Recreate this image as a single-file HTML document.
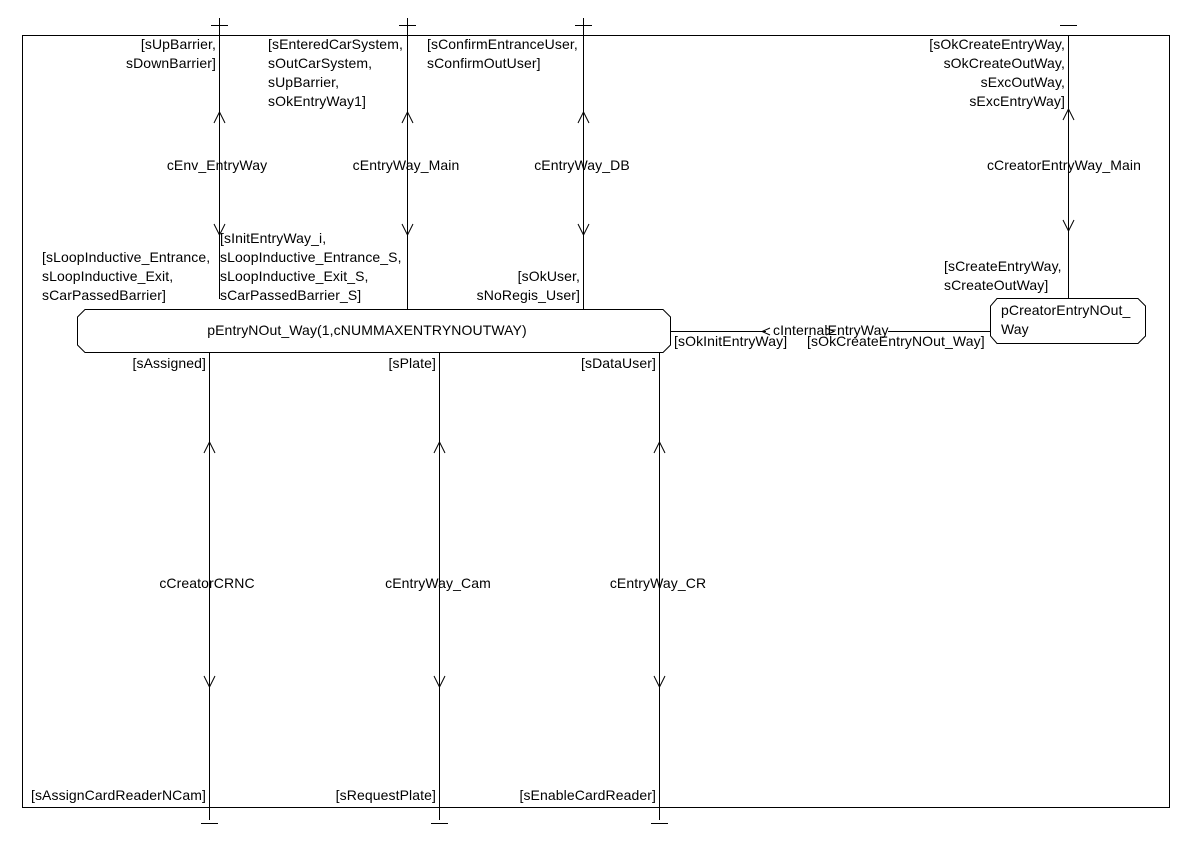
<!DOCTYPE html>
<html><head><meta charset="utf-8"><style>
html,body{margin:0;padding:0;background:#fff}
text{font-family:"Liberation Sans",sans-serif;font-size:14px;letter-spacing:0.1px;fill:#000}
</style></head><body>
<svg width="1191" height="842" xmlns="http://www.w3.org/2000/svg">
<g stroke="#000" stroke-width="1" fill="none">
<rect x="22.5" y="35.5" width="1147" height="772"/>
<line x1="219.5" y1="18" x2="219.5" y2="299"/>
<line x1="211" y1="25.5" x2="228" y2="25.5"/>
<line x1="407.5" y1="18" x2="407.5" y2="309"/>
<line x1="399" y1="25.5" x2="416" y2="25.5"/>
<line x1="583.5" y1="18" x2="583.5" y2="309"/>
<line x1="575" y1="25.5" x2="592" y2="25.5"/>
<line x1="1068.5" y1="35" x2="1068.5" y2="298"/>
<line x1="1060" y1="25.5" x2="1077" y2="25.5"/>
<path d="M214,123 L219.5,112 L225,123 M214,224 L219.5,235 L225,224"/>
<path d="M402,123 L407.5,112 L413,123 M402,224 L407.5,235 L413,224"/>
<path d="M578,123 L583.5,112 L589,123 M578,224 L583.5,235 L589,224"/>
<path d="M1063,120 L1068.5,109 L1074,120 M1063,220 L1068.5,231 L1074,220"/>
<line x1="209.5" y1="352" x2="209.5" y2="820"/>
<line x1="201" y1="823.5" x2="218" y2="823.5"/>
<line x1="439.5" y1="352" x2="439.5" y2="820"/>
<line x1="431" y1="823.5" x2="448" y2="823.5"/>
<line x1="659.5" y1="352" x2="659.5" y2="820"/>
<line x1="651" y1="823.5" x2="668" y2="823.5"/>
<path d="M204,453 L209.5,442 L215,453 M204,676 L209.5,687 L215,676"/>
<path d="M434,453 L439.5,442 L445,453 M434,676 L439.5,687 L445,676"/>
<path d="M654,453 L659.5,442 L665,453 M654,676 L659.5,687 L665,676"/>
<path d="M85,309.5 L663,309.5 L670.5,317 L670.5,345 L663,352.5 L85,352.5 L77.5,345 L77.5,317 Z" fill="#fff"/>
<path d="M997,298.5 L1138,298.5 L1145.5,306 L1145.5,336 L1138,343.5 L997,343.5 L990.5,336 L990.5,306 Z" fill="#fff"/>
<line x1="671" y1="331.5" x2="766" y2="331.5"/>
<line x1="888" y1="331.5" x2="990" y2="331.5"/>
<path d="M770,328 L762,331.5 L770,335 M826,328 L834,331.5 L826,335"/>
</g>
<g>
<text x="216" y="49" text-anchor="end">[sUpBarrier,</text>
<text x="216" y="68" text-anchor="end">sDownBarrier]</text>
<text x="268" y="49">[sEnteredCarSystem,</text>
<text x="268" y="68">sOutCarSystem,</text>
<text x="268" y="87">sUpBarrier,</text>
<text x="268" y="106">sOkEntryWay1]</text>
<text x="427" y="49">[sConfirmEntranceUser,</text>
<text x="427" y="68">sConfirmOutUser]</text>
<text x="1065" y="49" text-anchor="end">[sOkCreateEntryWay,</text>
<text x="1065" y="68" text-anchor="end">sOkCreateOutWay,</text>
<text x="1065" y="87" text-anchor="end">sExcOutWay,</text>
<text x="1065" y="106" text-anchor="end">sExcEntryWay]</text>
<text x="217" y="170" text-anchor="middle">cEnv_EntryWay</text>
<text x="406" y="170" text-anchor="middle">cEntryWay_Main</text>
<text x="582" y="170" text-anchor="middle">cEntryWay_DB</text>
<text x="1064" y="170" text-anchor="middle">cCreatorEntryWay_Main</text>
<text x="220" y="243">[sInitEntryWay_i,</text>
<text x="220" y="262">sLoopInductive_Entrance_S,</text>
<text x="220" y="281">sLoopInductive_Exit_S,</text>
<text x="220" y="300">sCarPassedBarrier_S]</text>
<text x="42" y="262">[sLoopInductive_Entrance,</text>
<text x="42" y="281">sLoopInductive_Exit,</text>
<text x="42" y="300">sCarPassedBarrier]</text>
<text x="580" y="281" text-anchor="end">[sOkUser,</text>
<text x="580" y="300" text-anchor="end">sNoRegis_User]</text>
<text x="944" y="271">[sCreateEntryWay,</text>
<text x="944" y="290">sCreateOutWay]</text>
<text x="367" y="335" text-anchor="middle">pEntryNOut_Way(1,cNUMMAXENTRYNOUTWAY)</text>
<text x="1001" y="315">pCreatorEntryNOut_</text>
<text x="1001" y="334">Way</text>
<text x="773" y="335">cInternalEntryWay</text>
<text x="674" y="346">[sOkInitEntryWay]</text>
<text x="807" y="346">[sOkCreateEntryNOut_Way]</text>
<text x="206" y="368" text-anchor="end">[sAssigned]</text>
<text x="436" y="368" text-anchor="end">[sPlate]</text>
<text x="656" y="368" text-anchor="end">[sDataUser]</text>
<text x="207" y="588" text-anchor="middle">cCreatorCRNC</text>
<text x="438" y="588" text-anchor="middle">cEntryWay_Cam</text>
<text x="658" y="588" text-anchor="middle">cEntryWay_CR</text>
<text x="206" y="800" text-anchor="end">[sAssignCardReaderNCam]</text>
<text x="436" y="800" text-anchor="end">[sRequestPlate]</text>
<text x="656" y="800" text-anchor="end">[sEnableCardReader]</text>
</g>
</svg>
</body></html>
